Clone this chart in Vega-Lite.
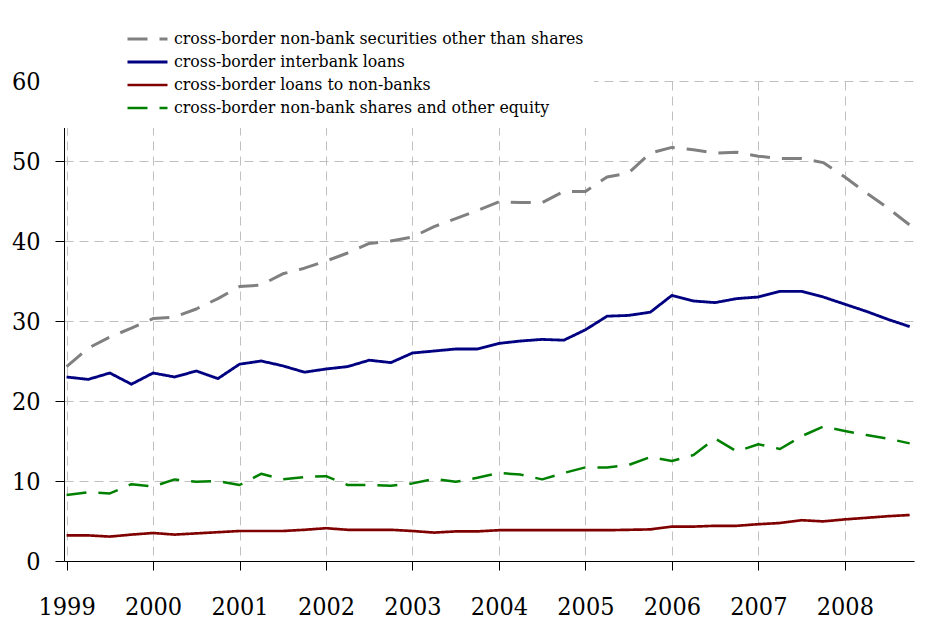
{
  "$schema": "https://vega.github.io/schema/vega-lite/v6.json",
  "width": 850,
  "height": 480,
  "autosize": {"type": "none"},
  "padding": {"left": 64, "top": 81, "right": 30, "bottom": 61},
  "background": "white",
  "config": {
    "font": "DejaVu Serif Condensed",
    "view": {"stroke": null},
    "axis": {
      "labelFont": "DejaVu Serif Condensed",
      "labelColor": "black",
      "domainColor": "black",
      "tickColor": "black",
      "tickSize": 9,
      "gridColor": "#c0c0c0",
      "gridDash": [9, 6],
      "gridWidth": 1,
      "title": null
    }
  },
  "data": {
    "values": [
      {"t": 1999.0, "a": 24.3, "b": 23.0, "c": 3.2, "d": 8.25},
      {"t": 1999.25, "a": 26.6, "b": 22.7, "c": 3.2, "d": 8.6},
      {"t": 1999.5, "a": 28.0, "b": 23.5, "c": 3.05, "d": 8.45},
      {"t": 1999.75, "a": 29.1, "b": 22.1, "c": 3.3, "d": 9.6},
      {"t": 2000.0, "a": 30.3, "b": 23.5, "c": 3.5, "d": 9.3},
      {"t": 2000.25, "a": 30.5, "b": 23.0, "c": 3.3, "d": 10.2},
      {"t": 2000.5, "a": 31.5, "b": 23.75, "c": 3.45, "d": 9.9},
      {"t": 2000.75, "a": 32.8, "b": 22.8, "c": 3.6, "d": 10.0},
      {"t": 2001.0, "a": 34.3, "b": 24.6, "c": 3.75, "d": 9.5},
      {"t": 2001.25, "a": 34.5, "b": 25.0, "c": 3.75, "d": 10.9},
      {"t": 2001.5, "a": 35.9, "b": 24.4, "c": 3.75, "d": 10.2},
      {"t": 2001.75, "a": 36.6, "b": 23.6, "c": 3.9, "d": 10.5},
      {"t": 2002.0, "a": 37.5, "b": 24.0, "c": 4.1, "d": 10.6},
      {"t": 2002.25, "a": 38.5, "b": 24.3, "c": 3.9, "d": 9.5},
      {"t": 2002.5, "a": 39.7, "b": 25.1, "c": 3.9, "d": 9.5},
      {"t": 2002.75, "a": 40.0, "b": 24.8, "c": 3.9, "d": 9.4},
      {"t": 2003.0, "a": 40.5, "b": 26.0, "c": 3.75, "d": 9.7},
      {"t": 2003.25, "a": 41.8, "b": 26.25, "c": 3.55, "d": 10.25},
      {"t": 2003.5, "a": 42.8, "b": 26.5, "c": 3.7, "d": 9.9},
      {"t": 2003.75, "a": 43.8, "b": 26.5, "c": 3.7, "d": 10.4},
      {"t": 2004.0, "a": 44.9, "b": 27.2, "c": 3.85, "d": 11.0},
      {"t": 2004.25, "a": 44.8, "b": 27.5, "c": 3.85, "d": 10.8},
      {"t": 2004.5, "a": 44.8, "b": 27.7, "c": 3.85, "d": 10.2},
      {"t": 2004.75, "a": 46.2, "b": 27.6, "c": 3.85, "d": 11.0},
      {"t": 2005.0, "a": 46.2, "b": 28.9, "c": 3.85, "d": 11.7},
      {"t": 2005.25, "a": 48.0, "b": 30.6, "c": 3.85, "d": 11.7},
      {"t": 2005.5, "a": 48.5, "b": 30.7, "c": 3.9, "d": 12.0},
      {"t": 2005.75, "a": 51.0, "b": 31.1, "c": 3.95, "d": 13.0},
      {"t": 2006.0, "a": 51.7, "b": 33.2, "c": 4.3, "d": 12.5},
      {"t": 2006.25, "a": 51.4, "b": 32.5, "c": 4.3, "d": 13.25},
      {"t": 2006.5, "a": 51.0, "b": 32.3, "c": 4.4, "d": 15.3},
      {"t": 2006.75, "a": 51.1, "b": 32.8, "c": 4.4, "d": 13.7},
      {"t": 2007.0, "a": 50.6, "b": 33.0, "c": 4.6, "d": 14.6},
      {"t": 2007.25, "a": 50.3, "b": 33.7, "c": 4.75, "d": 14.0},
      {"t": 2007.5, "a": 50.3, "b": 33.7, "c": 5.1, "d": 15.6},
      {"t": 2007.75, "a": 49.8, "b": 33.0, "c": 4.95, "d": 16.8},
      {"t": 2008.0, "a": 48.0, "b": 32.1, "c": 5.2, "d": 16.25},
      {"t": 2008.25, "a": 46.0, "b": 31.2, "c": 5.4, "d": 15.75},
      {"t": 2008.5, "a": 44.1, "b": 30.2, "c": 5.6, "d": 15.3},
      {"t": 2008.75, "a": 42.0, "b": 29.3, "c": 5.75, "d": 14.7}
    ]
  },
  "transform": [
    {"fold": ["a", "b", "c", "d"], "as": ["key", "value"]},
    {"lookup": "key", "from": {"data": {"values": [
      {"key": "a", "series": "cross-border non-bank securities other than shares"},
      {"key": "b", "series": "cross-border interbank loans"},
      {"key": "c", "series": "cross-border loans to non-banks"},
      {"key": "d", "series": "cross-border non-bank shares and other equity"}
    ]}, "key": "key", "fields": ["series"]}}
  ],
  "mark": {"type": "line", "strokeCap": "butt", "strokeJoin": "round"},
  "encoding": {
    "x": {
      "field": "t",
      "type": "quantitative",
      "scale": {"domain": [1998.97, 2008.8], "nice": false, "zero": false},
      "axis": {
        "values": [1999, 2000, 2001, 2002, 2003, 2004, 2005, 2006, 2007, 2008],
        "format": "d",
        "labelFontSize": 25,
        "labelPadding": 24,
        "grid": true
      }
    },
    "y": {
      "field": "value",
      "type": "quantitative",
      "scale": {"domain": [0, 60], "nice": false},
      "axis": {
        "values": [0, 10, 20, 30, 40, 50, 60],
        "labelFontSize": 25,
        "labelPadding": 15,
        "grid": true
      }
    },
    "detail": {"field": "series"},
    "color": {
      "field": "series",
      "type": "nominal",
      "scale": {
        "domain": [
          "cross-border non-bank securities other than shares",
          "cross-border interbank loans",
          "cross-border loans to non-banks",
          "cross-border non-bank shares and other equity"
        ],
        "range": ["#808080", "#000080", "#800000", "#008000"]
      },
      "legend": {
        "title": null,
        "orient": "none",
        "legendX": -14,
        "legendY": -62,
        "fillColor": "white",
        "padding": 10,
        "symbolType": "stroke",
        "symbolSize": 1600,
        "symbolOffset": 66,
        "clipHeight": 20,
        "rowPadding": 3,
        "labelOffset": 5,
        "labelFont": "DejaVu Serif Condensed",
        "labelFontSize": 17.5,
        "labelColor": "black",
        "labelLimit": 600
      }
    },
    "strokeDash": {
      "field": "series",
      "type": "nominal",
      "scale": {
        "domain": [
          "cross-border non-bank securities other than shares",
          "cross-border interbank loans",
          "cross-border loans to non-banks",
          "cross-border non-bank shares and other equity"
        ],
        "range": [[20, 12], [1, 0], [1, 0], [20, 12]]
      }
    },
    "strokeWidth": {
      "field": "series",
      "type": "nominal",
      "scale": {
        "domain": [
          "cross-border non-bank securities other than shares",
          "cross-border interbank loans",
          "cross-border loans to non-banks",
          "cross-border non-bank shares and other equity"
        ],
        "range": [3, 2.5, 2.5, 3.5]
      }
    }
  }
}
